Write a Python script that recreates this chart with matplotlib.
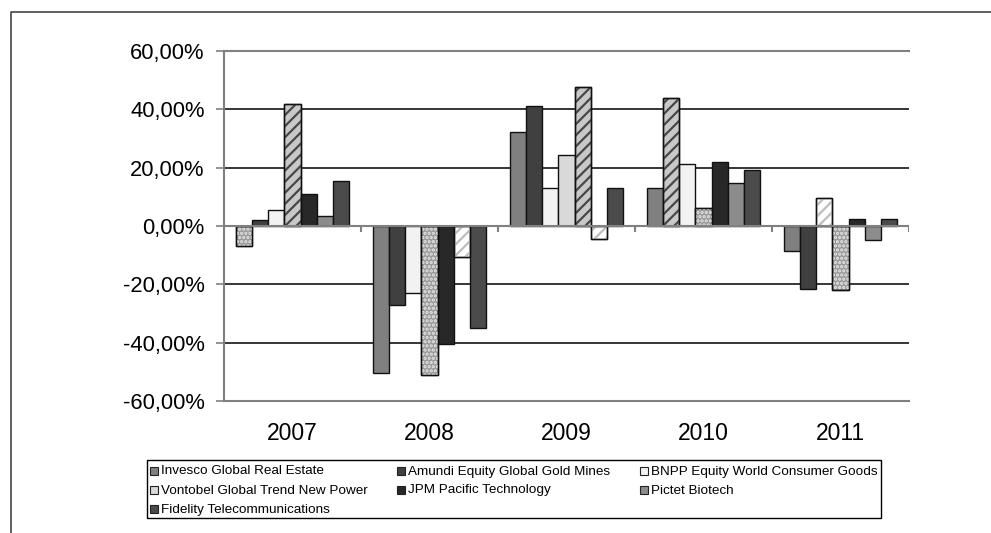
import matplotlib
matplotlib.use('Agg')
import matplotlib.pyplot as plt
from matplotlib.patches import Rectangle
import numpy as np

years = ['2007', '2008', '2009', '2010', '2011']
funds = ['Invesco Global Real Estate', 'Amundi Equity Global Gold Mines',
         'BNPP Equity World Consumer Goods', 'Vontobel Global Trend New Power',
         'JPM Pacific Technology', 'Pictet Biotech', 'Fidelity Telecommunications']

# yearly returns in %
invesco = [-7.0, -50.4, 32.1, 13.2, -8.6]
amundi = [1.9, -27.1, 41.1, 43.9, -21.5]
bnpp = [5.6, -23.0, 13.0, 21.4, 9.6]
vontobel = [41.9, -51.0, 24.2, 6.3, -22.1]
jpm = [11.1, -40.4, 47.8, 22.1, 2.3]
pictet = [3.4, -10.5, -4.6, 14.7, -4.7]
fidelity = [15.4, -34.8, 13.0, 19.1, 2.5]
series = [invesco, amundi, bnpp, vontobel, jpm, pictet, fidelity]

colors = ['#808080', '#404040', '#f2f2f2', '#d9d9d9', '#282828', '#8c8c8c', '#4b4b4b']

# per-bar pattern overrides (series index, year index) -> pattern
patterns = {(0, 0): 'dot', (1, 3): 'hd', (2, 4): 'hl', (3, 0): 'hd', (3, 1): 'dot',
            (3, 3): 'dot', (3, 4): 'dot', (4, 2): 'hd', (5, 1): 'hl', (5, 2): 'hl'}
pat_style = {'hd': ('#c8c8c8', '///', '#474747'),
             'hl': ('#ffffff', '///', '#bdbdbd'),
             'dot': ('#9a9a9a', '....', '#e6e6e6')}

plt.rcParams['font.family'] = ['Liberation Sans', 'DejaVu Sans']
plt.rcParams['hatch.linewidth'] = 1.6

W, H = 991, 533
fig = plt.figure(figsize=(W / 100, H / 100), dpi=100)

# overlay for frame + legend, pixel coords
ov = fig.add_axes([0, 0, 1, 1])
ov.set_xlim(0, W)
ov.set_ylim(H, 0)
ov.axis('off')
ov.plot([11, 11, W + 5], [H + 5, 12, 12], color='#444444', lw=1.2)

ax = fig.add_axes([224 / W, (H - 401) / H, (909 - 224) / W, (401 - 51) / H])
x = np.arange(len(years))
bw = 0.1175
for i, vals in enumerate(series):
    for j, v in enumerate(vals):
        xi = x[j] + (i - 3) * bw
        p = patterns.get((i, j))
        if p is None:
            ax.bar(xi, v, bw, color=colors[i], edgecolor='#111111', lw=1, zorder=3)
        else:
            fc, hatch, hc = pat_style[p]
            ax.bar(xi, v, bw, color=fc, edgecolor='#111111', lw=1, zorder=3)
            ax.bar(xi, v, bw, fill=False, hatch=hatch, edgecolor=hc, lw=0, zorder=4)
            ax.bar(xi, v, bw, fill=False, edgecolor='#111111', lw=1, zorder=5)

ax.set_xlim(-0.5, 4.5)
ax.set_ylim(-60, 60)
ax.set_yticks([-60, -40, -20, 0, 20, 40, 60])
ax.set_yticklabels([f'{t},00%' for t in [-60, -40, -20, 0, 20, 40, 60]])
for g in [-40, -20, 20, 40]:
    ax.axhline(g, color='black', lw=1.1, zorder=1)
ax.axhline(0, color='#808080', lw=1.5, zorder=6)
ax.vlines(np.arange(0.5, 5, 1), -2.2, 0, color='#808080', lw=1.5, zorder=6)
ax.set_xticks(x)
ax.set_xticklabels(years)
ax.tick_params(axis='x', length=0, pad=15, labelsize=16.5)
ax.tick_params(axis='y', length=6, width=1.2, color='#808080', pad=8, labelsize=15.8)
for s in ['top', 'bottom', 'left']:
    ax.spines[s].set_color('#808080')
    ax.spines[s].set_linewidth(1.5)
ax.spines['right'].set_visible(False)

# legend
ov.add_patch(Rectangle((147, 460), 734, 58, fill=False, edgecolor='black', lw=1))
col_x = [150, 397, 640]
row_y = [471, 490, 509]
for k, name in enumerate(funds):
    r, c = divmod(k, 3)
    ov.add_patch(Rectangle((col_x[c], row_y[r] - 4), 8, 8, facecolor=colors[k],
                           edgecolor='#222222', lw=0.8))
    ov.text(col_x[c] + 11, row_y[r] + 0.5, name, fontsize=9.7, va='center', ha='left')

fig.savefig('out.png', dpi=100)
